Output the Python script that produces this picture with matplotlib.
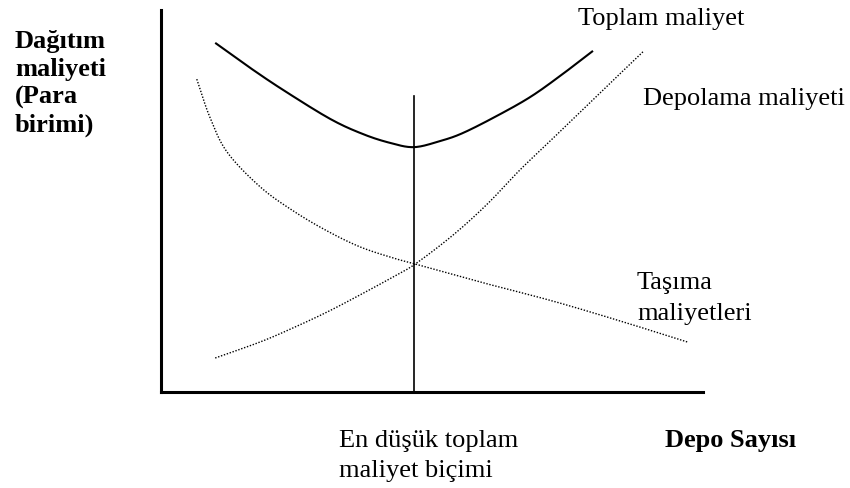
import numpy as np
import matplotlib
matplotlib.use("Agg")
import matplotlib.pyplot as plt

# ---- data (arbitrary units) ----
transport_x = [0.66, 0.90, 1.22, 1.83, 2.44, 3.06, 3.67, 4.28, 4.69, 5.48, 6.02, 7.23, 8.47, 9.71]
transport_y = [8.19, 7.20, 6.28, 5.37, 4.74, 4.22, 3.80, 3.51, 3.35, 3.04, 2.83, 2.38, 1.86, 1.31]

storage_x = [1.00, 1.83, 2.44, 3.06, 3.67, 4.28, 4.69, 5.39, 6.02, 6.62, 7.18, 8.10, 8.91]
storage_y = [0.89, 1.31, 1.68, 2.09, 2.54, 3.01, 3.35, 4.11, 4.92, 5.81, 6.57, 7.83, 8.93]

total_x = [1.00, 1.62, 2.25, 3.12, 3.73, 4.23, 4.67, 5.15, 5.57, 6.20, 6.81, 7.36, 7.97]
total_y = [9.14, 8.51, 7.91, 7.15, 6.75, 6.52, 6.41, 6.57, 6.78, 7.23, 7.72, 8.27, 8.93]

optimum_x = 4.67
optimum_top = 7.75

labels = {
    "total": "Toplam maliyet",
    "storage": "Depolama maliyeti",
    "transport": ["Taşıma", "maliyetleri"],
    "optimum": ["En düşük toplam", "maliyet biçimi"],
    "xlabel": "Depo Sayısı",
    "ylabel": ["Dağıtım", "maliyeti", "(Para", "birimi)"],
}


def smooth(xs, ys, n=20):
    """Catmull-Rom rendering through the read points."""
    p = np.column_stack([xs, ys]).astype(float)
    p = np.vstack([2 * p[0] - p[1], p, 2 * p[-1] - p[-2]])
    out = []
    t = np.linspace(0, 1, n, endpoint=False)[:, None]
    for i in range(1, len(p) - 2):
        p0, p1, p2, p3 = p[i - 1], p[i], p[i + 1], p[i + 2]
        seg = 0.5 * ((2 * p1) + (-p0 + p2) * t + (2 * p0 - 5 * p1 + 4 * p2 - p3) * t ** 2
                     + (-p0 + 3 * p1 - 3 * p2 + p3) * t ** 3)
        out.append(seg)
    out.append(p[-2][None, :])
    out = np.vstack(out)
    return out[:, 0], out[:, 1]


W, H = 850, 488
fig = plt.figure(figsize=(W / 100, H / 100), dpi=100)
ax = fig.add_axes([161 / W, (H - 392) / H, (703 - 161) / W, (392 - 10) / H])
ax.set_xlim(0, 10)
ax.set_ylim(0, 10)
for s in ["top", "right"]:
    ax.spines[s].set_visible(False)
for s in ["left", "bottom"]:
    ax.spines[s].set_linewidth(2.2)
    ax.spines[s].set_color("black")
ax.set_xticks([])
ax.set_yticks([])

dot = (0, (1, 1.2))
tx, ty = smooth(transport_x, transport_y)
ax.plot(tx, ty, color="black", lw=1.0, linestyle=dot)
sx, sy = smooth(storage_x, storage_y)
ax.plot(sx, sy, color="black", lw=1.0, linestyle=dot)
cx, cy = smooth(total_x, total_y)
ax.plot(cx, cy, color="black", lw=1.5, solid_capstyle="butt")
ax.plot([optimum_x, optimum_x], [0, optimum_top], color="black", lw=1.2)

font = dict(family=["Liberation Serif", "DejaVu Serif"], size=19, color="black", va="baseline")


def put(text, px, py, **kw):
    fig.text(px / W, 1 - py / H, text, **font, **kw)


put(labels["total"], 578, 25)
put(labels["storage"], 643, 105)
put(labels["transport"][0], 637, 289)
put(labels["transport"][1], 637, 320)
put(labels["optimum"][0], 339, 447)
put(labels["optimum"][1], 339, 477)
put(labels["xlabel"], 665, 447, fontweight="bold")
for i, line in enumerate(labels["ylabel"]):
    put(line, 15, 48 + 28 * i, fontweight="bold")

fig.savefig("out.png", dpi=100)
